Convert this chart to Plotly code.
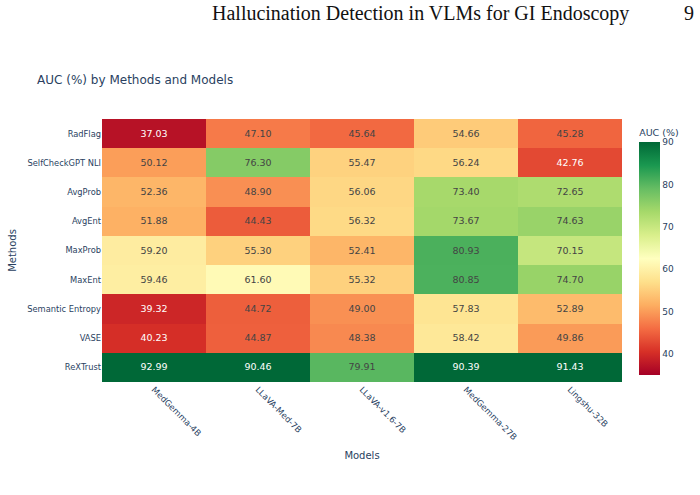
import plotly.graph_objects as go

methods = ["RadFlag", "SelfCheckGPT NLI", "AvgProb", "AvgEnt", "MaxProb",
           "MaxEnt", "Semantic Entropy", "VASE", "ReXTrust"]
models = ["MedGemma-4B", "LLaVA-Med-7B", "LLaVA-v1.6-7B", "MedGemma-27B", "Lingshu-32B"]

radflag = [37.03, 47.10, 45.64, 54.66, 45.28]
selfcheck = [50.12, 76.30, 55.47, 56.24, 42.76]
avgprob = [52.36, 48.90, 56.06, 73.40, 72.65]
avgent = [51.88, 44.43, 56.32, 73.67, 74.63]
maxprob = [59.20, 55.30, 52.41, 80.93, 70.15]
maxent = [59.46, 61.60, 55.32, 80.85, 74.70]
semantic_entropy = [39.32, 44.72, 49.00, 57.83, 52.89]
vase = [40.23, 44.87, 48.38, 58.42, 49.86]
rextrust = [92.99, 90.46, 79.91, 90.39, 91.43]

z = [radflag, selfcheck, avgprob, avgent, maxprob, maxent, semantic_entropy, vase, rextrust]

fig = go.Figure(go.Heatmap(
    z=z, x=models, y=methods,
    colorscale="RdYlGn", zmin=35, zmax=90,
    texttemplate="%{z:.2f}", textfont=dict(size=9.5),
    colorbar=dict(
        title=dict(text="AUC (%)", side="top", font=dict(size=9.5)),
        thickness=21, x=1.033, xanchor="left", xpad=0, ypad=7,
        tickfont=dict(size=9), tickvals=[40, 50, 60, 70, 80, 90],
        outlinewidth=0,
    ),
))

fig.update_layout(
    width=700, height=495,
    margin=dict(l=102, r=78, t=119, b=113),
    paper_bgcolor="white", plot_bgcolor="white",
    font=dict(family="DejaVu Sans, Open Sans, sans-serif", size=9, color="#2a3f5f"),
    title=dict(text="AUC (%) by Methods and Models", x=0.053, xanchor="left",
               y=0.838, yanchor="middle", font=dict(size=12)),
    xaxis=dict(title=dict(text="Models", font=dict(size=10), standoff=10),
               tickangle=45, tickfont=dict(size=8.5), showgrid=False, automargin=False),
    yaxis=dict(title=dict(text="Methods", font=dict(size=10), standoff=8),
               autorange="reversed", tickfont=dict(size=8.3), showgrid=False,
               automargin=False),
)

hy = (382 - 13) / 263
fig.add_annotation(text="Hallucination Detection in VLMs for GI Endoscopy",
                   xref="paper", yref="paper", x=(420 - 102) / 520, y=hy,
                   showarrow=False, xanchor="center", yanchor="middle",
                   font=dict(family="Liberation Serif, serif", size=20, color="#111"))
fig.add_annotation(text="9",
                   xref="paper", yref="paper", x=(689 - 102) / 520, y=hy,
                   showarrow=False, xanchor="center", yanchor="middle",
                   font=dict(family="Liberation Serif, serif", size=20, color="#111"))

fig.write_html("out.html")
